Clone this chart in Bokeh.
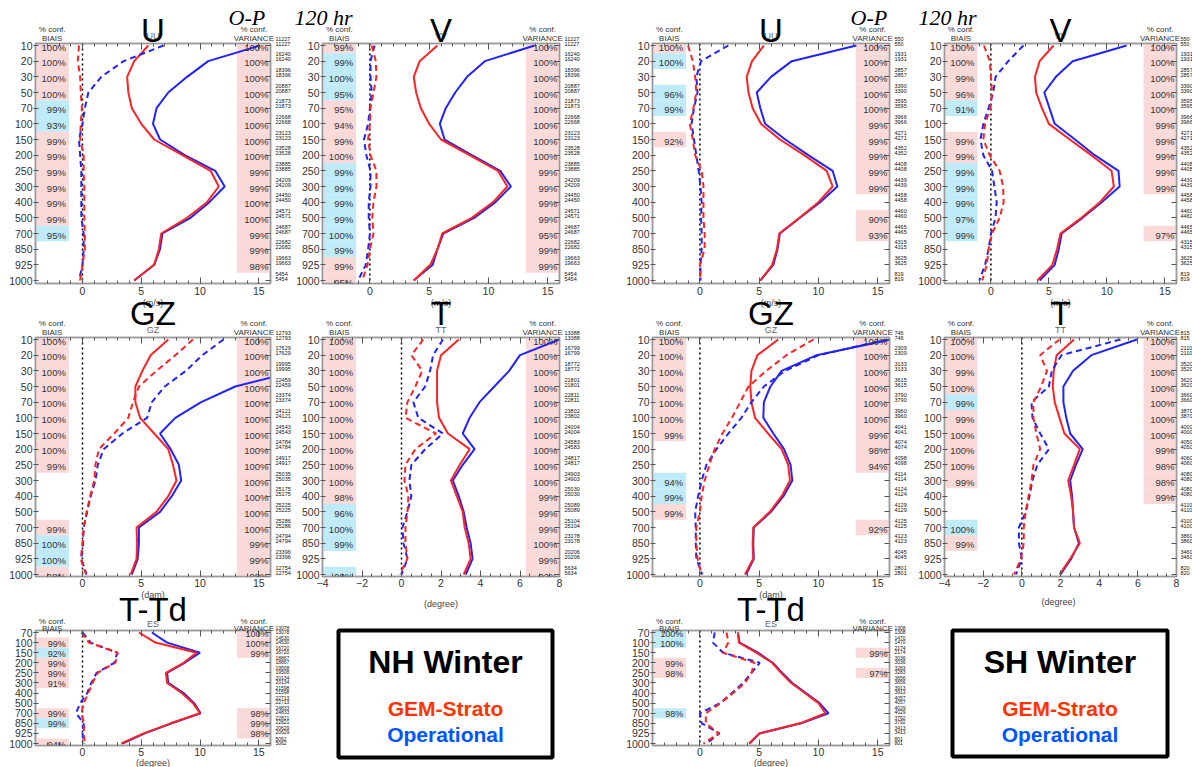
from bokeh.plotting import figure
from bokeh.models import (Range1d, FixedTicker, SingleIntervalTicker, LinearAxis,
                          LabelSet, ColumnDataSource, Span, CustomLabelingPolicy)
from bokeh.layouts import row, column
from bokeh.core.properties import value
from bokeh.embed import file_html
from bokeh.resources import INLINE

# ------------------------------------------------------------------ data
LEVELS = [10, 20, 30, 50, 70, 100, 150, 200, 250, 300, 400, 500, 700, 850, 925, 1000]
LEVELS_ES = [70, 100, 150, 200, 250, 300, 400, 500, 700, 850, 925, 1000]

# ---- NH winter: U
nh_u_strato_std = [5.6, 4.4, 3.8, 3.9, 4.2, 5.0, 6.1, 8.5, 10.9, 11.6, 10.6, 8.9, 6.7, 6.5, 6.1, 4.4]
nh_u_oper_std = [15.1, 10.7, 8.9, 7.3, 6.3, 6.0, 6.6, 8.7, 11.3, 12.1, 10.8, 9.2, 6.8, 6.6, 6.1, 4.4]
nh_u_strato_bias = [-0.3, -0.4, -0.2, -0.15, -0.05, -0.15, -0.2, 0.1, 0.1, 0.15, 0.15, 0.15, 0.2, 0.2, 0.0, -0.2]
nh_u_oper_bias = [6.9, 3.5, 1.6, 0.5, 0.2, 0.0, -0.3, -0.2, -0.1, -0.1, -0.1, -0.1, 0.1, 0.1, 0.0, -0.3]
nh_u_bias_conf = [100, 100, 100, 100, 99, 93, 99, 99, 99, 99, 99, 99, 95, None, None, None]
nh_u_bias_sig = ['r', 'r', 'r', 'r', 'b', 'b', 'r', 'r', 'r', 'r', 'r', 'r', 'b', None, None, None]
nh_u_var_conf = [100, 100, 100, 100, 100, 100, 100, 100, 99, 99, 100, 100, 99, 99, 98, None]
nh_u_var_sig = ['r'] * 15 + [None]
nh_uv_count = [11227, 16240, 18396, 20887, 21873, 22668, 23123, 23528, 23885, 24209, 24450, 24571, 24687, 22682, 19663, 5454]

# ---- NH winter: V
nh_v_strato_std = [5.7, 4.2, 3.7, 3.9, 4.3, 5.0, 6.0, 8.4, 10.8, 11.6, 10.4, 8.6, 6.1, 5.7, 5.1, 3.7]
nh_v_oper_std = [13.9, 9.7, 8.2, 7.2, 6.4, 5.9, 6.3, 8.6, 11.0, 11.9, 10.6, 8.8, 6.2, 5.7, 5.3, 3.7]
nh_v_strato_bias = [0.15, 0.5, 0.55, 0.3, 0.05, 0.0, -0.15, 0.05, 0.55, 0.55, 0.3, 0.2, 0.3, 0.0, -0.2, -0.65]
nh_v_oper_bias = [0.4, 0.05, 0.05, 0.15, 0.0, -0.15, -0.5, -0.3, 0.05, 0.05, -0.1, -0.1, 0.0, -0.15, -0.35, -1.0]
nh_v_bias_conf = [99, 99, 100, 95, 95, 94, 99, 100, 99, 99, 99, 99, 100, 99, 99, 95]
nh_v_bias_sig = ['r', 'b', 'b', 'b', 'r', 'r', 'r', 'r', 'b', 'b', 'b', 'b', 'b', 'b', 'r', 'r']
nh_v_var_conf = [100, 100, 100, 100, 100, 100, 100, 100, 99, 99, 99, 99, 95, 99, 99, None]
nh_v_var_sig = ['r'] * 15 + [None]

# ---- NH winter: GZ
nh_gz_strato_std = [7.3, 5.8, 5.1, 4.5, 4.5, 4.9, 6.1, 7.3, 7.7, 8.0, 7.3, 6.3, 4.6, 4.65, 4.6, 4.1]
nh_gz_oper_std = [28.0, 23.0, 18.3, 13.0, 10.1, 7.9, 6.6, 7.5, 8.2, 8.4, 7.6, 6.6, 4.8, 4.8, 4.7, 4.2]
nh_gz_strato_bias = [9.4, 7.9, 6.3, 4.8, 4.3, 3.9, 2.7, 1.4, 1.1, 1.0, 0.65, 0.35, 0.1, 0.0, -0.15, 0.3]
nh_gz_oper_bias = [12.0, 10.2, 8.8, 7.0, 5.9, 5.5, 3.4, 1.8, 1.3, 1.1, 0.7, 0.4, 0.1, 0.05, -0.1, 0.35]
nh_gz_bias_conf = [100, 100, 100, 100, 100, 100, 100, 100, 99, None, None, None, 99, 100, 100, 98]
nh_gz_bias_sig = ['r'] * 9 + [None] * 3 + ['r', 'b', 'b', 'r']
nh_gz_var_conf = [100] * 13 + [99, 99, 98]
nh_gz_var_sig = ['r'] * 16
nh_gz_count = [12793, 17629, 19995, 22459, 23374, 24121, 24543, 24784, 24917, 25035, 25175, 25225, 25286, 24794, 23396, 12754]

# ---- NH winter: T
nh_t_strato_std = [2.9, 2.0, 1.8, 1.8, 1.8, 1.9, 2.35, 3.45, 2.95, 2.5, 2.8, 3.1, 3.2, 3.4, 3.5, 3.15]
nh_t_oper_std = [8.0, 6.0, 5.45, 4.7, 3.95, 3.45, 3.1, 3.7, 3.1, 2.6, 2.9, 3.15, 3.3, 3.5, 3.6, 3.25]
nh_t_strato_bias = [1.1, 0.5, 1.05, 0.7, 0.3, 0.2, 1.75, 0.7, 0.2, 0.15, 0.35, 0.3, 0.2, 0.2, 0.3, -0.1]
nh_t_oper_bias = [2.1, 1.6, 1.45, 1.2, 0.6, 0.85, 2.1, 1.2, 0.5, 0.4, 0.5, 0.3, 0.05, 0.1, 0.3, 0.0]
nh_t_bias_conf = [100] * 10 + [98, 96, 100, 99, None, 98]
nh_t_bias_sig = ['r'] * 11 + ['b', 'b', 'b', None, 'b']
nh_t_var_conf = [100] * 10 + [99, 99, 99, 100, 99, 92]
nh_t_var_sig = ['r'] * 16
nh_t_count = [13388, 16799, 18772, 21801, 22811, 23802, 24004, 24583, 24817, 24903, 25030, 25089, 25104, 23178, 20206, 5634]

# ---- NH winter: T-Td
nh_td_strato_std = [4.8, 6.2, 9.7, 8.6, 7.1, 7.2, 8.45, 9.4, 10.0, 7.5, 5.2, 3.3]
nh_td_oper_std = [5.9, 7.2, 10.0, 8.7, 7.2, 7.3, 8.6, 9.5, 10.05, 7.6, 5.3, 3.4]
nh_td_strato_bias = [-0.1, 0.55, 3.0, 2.8, 1.3, 0.85, 0.5, 0.1, -0.1, 0.15, 0.1, 0.2]
nh_td_oper_bias = [0.0, 0.7, 2.95, 2.7, 1.2, 0.75, 0.4, -0.2, -0.55, 0.1, 0.0, 0.15]
nh_td_bias_conf = [None, 99, 92, 99, 99, 91, None, None, 99, 99, None, 94]
nh_td_bias_sig = [None, 'r', 'b', 'r', 'r', 'r', None, None, 'r', 'b', None, 'r']
nh_td_var_conf = [100, 100, 99, None, None, None, None, None, 98, 99, 98, None]
nh_td_var_sig = ['r', 'r', 'r', None, None, None, None, None, 'r', 'r', 'r', None]
nh_td_count = [13078, 14530, 16720, 18867, 19508, 20134, 21598, 22713, 24833, 22821, 20629, 5062]

# ---- SH winter: U
sh_u_strato_std = [5.4, 4.4, 3.95, 4.1, 4.45, 5.15, 6.75, 8.8, 10.7, 11.2, 10.0, 8.4, 6.7, 6.5, 6.1, 5.1]
sh_u_oper_std = [13.2, 7.75, 6.0, 4.8, 5.1, 5.5, 7.2, 9.15, 11.2, 11.6, 10.15, 8.45, 6.75, 6.55, 6.2, 5.1]
sh_u_strato_bias = [-1.0, -0.6, -0.4, -0.3, -0.55, -0.85, -0.6, -0.4, 0.15, 0.3, 0.3, 0.3, 0.4, 0.4, 0.0, 0.05]
sh_u_oper_bias = [2.4, 0.1, -0.3, -0.2, -0.5, -0.7, -0.5, -0.3, -0.1, 0.05, 0.15, 0.1, 0.15, 0.15, 0.05, 0.05]
sh_u_bias_conf = [100, 100, None, 96, 99, None, 92, None, None, None, None, None, None, None, None, None]
sh_u_bias_sig = ['r', 'b', None, 'b', 'b', None, 'r', None, None, None, None, None, None, None, None, None]
sh_u_var_conf = [100, 100, 100, 100, 100, 99, 99, 99, 99, 99, None, 90, 93, None, None, None]
sh_u_var_sig = ['r'] * 10 + [None, 'r', 'r', None, None, None]
sh_uv_count = [550, 1931, 2857, 3390, 3595, 3966, 4271, 4352, 4408, 4439, 4458, 4460, 4465, 4315, 3625, 819]

# ---- SH winter: V
sh_v_strato_std = [5.4, 4.2, 3.8, 3.9, 4.4, 5.0, 6.8, 8.65, 10.4, 10.6, 9.4, 7.8, 6.0, 5.7, 5.3, 4.0]
sh_v_oper_std = [11.7, 7.05, 5.6, 4.6, 5.05, 5.5, 7.25, 8.95, 11.0, 11.1, 9.55, 7.9, 6.1, 5.85, 5.5, 4.2]
sh_v_strato_bias = [-0.6, -0.1, 0.0, 0.1, -0.05, -0.5, -0.65, -0.1, 0.75, 1.05, 1.1, 0.75, 0.1, -0.2, -0.35, -0.75]
sh_v_oper_bias = [2.8, 1.5, 0.4, 0.2, -0.2, -0.65, -0.9, -0.65, 0.1, 0.3, 0.5, 0.4, 0.0, -0.2, -0.5, -1.0]
sh_v_bias_conf = [100, 100, 99, 96, 91, None, 99, 99, 99, 99, 99, 97, 99, None, None, None]
sh_v_bias_sig = ['r', 'r', 'r', 'r', 'b', None, 'r', 'r', 'b', 'b', 'b', 'b', 'b', None, None, None]
sh_v_var_conf = [100, 100, 100, 100, 100, 99, 99, 99, 99, 99, None, None, 97, None, None, None]
sh_v_var_sig = ['r'] * 10 + [None, None, 'r', None, None, None]

# ---- SH winter: GZ
sh_gz_strato_std = [6.6, 4.85, 4.35, 4.25, 4.35, 4.65, 5.75, 6.9, 7.45, 7.6, 6.9, 5.9, 4.5, 4.45, 4.5, 3.8]
sh_gz_oper_std = [16.1, 9.85, 6.9, 5.95, 5.4, 5.35, 6.2, 7.1, 7.65, 7.8, 7.05, 6.0, 4.55, 4.5, 4.55, 3.9]
sh_gz_strato_bias = [9.6, 7.3, 5.6, 4.1, 3.4, 2.7, 1.9, 1.25, 0.8, 0.4, 0.15, 0.0, -0.3, -0.3, -0.2, 0.15]
sh_gz_oper_bias = [15.8, 10.0, 7.2, 5.4, 4.35, 3.5, 2.4, 1.4, 0.55, 0.15, -0.15, -0.4, -0.35, -0.35, -0.3, 0.2]
sh_gz_bias_conf = [100, 100, 100, 100, 100, 100, 99, None, None, 94, 99, 99, None, None, None, None]
sh_gz_bias_sig = ['r'] * 7 + [None, None, 'b', 'b', 'r', None, None, None, None]
sh_gz_var_conf = [100, 100, 100, 100, 100, 100, 99, 98, 94, None, None, None, 92, None, None, None]
sh_gz_var_sig = ['r'] * 9 + [None, None, None, 'r', None, None, None]
sh_gz_count = [746, 2309, 3133, 3615, 3790, 3960, 4041, 4074, 4098, 4114, 4124, 4129, 4125, 4123, 4045, 2801]

# ---- SH winter: T
sh_t_strato_std = [2.7, 1.8, 1.65, 1.6, 1.7, 1.95, 2.2, 3.0, 2.7, 2.4, 2.55, 2.65, 2.7, 3.0, 2.5, 1.95]
sh_t_oper_std = [5.95, 3.6, 2.65, 2.15, 2.15, 2.3, 2.5, 3.15, 2.8, 2.5, 2.6, 2.65, 2.7, 2.95, 2.55, 2.0]
sh_t_strato_bias = [1.95, 0.95, 1.3, 1.0, 0.6, 0.6, 0.75, 0.95, 0.6, 0.5, 0.35, 0.2, 0.1, 0.1, -0.05, -0.4]
sh_t_oper_bias = [5.1, 2.05, 1.55, 1.4, 0.5, 0.55, 0.95, 1.4, 0.8, 0.55, 0.4, 0.2, -0.15, -0.15, 0.0, -0.3]
sh_t_bias_conf = [100, 100, 99, 100, 99, 99, 100, 100, 100, 99, None, None, 100, 99, None, None]
sh_t_bias_sig = ['r', 'r', 'r', 'r', 'b', 'r', 'r', 'r', 'r', 'r', None, None, 'b', 'r', None, None]
sh_t_var_conf = [100, 100, 100, 100, 100, 100, 100, 99, 98, 98, 99, None, None, None, None, None]
sh_t_var_sig = ['r'] * 11 + [None] * 5
sh_t_count = [815, 2110, 3520, 3620, 3660, 3870, 4000, 4050, 4060, 4080, 4080, 4110, 4100, 3860, 3460, 820]

# ---- SH winter: T-Td
sh_td_strato_std = [3.2, 3.3, 4.75, 6.1, 6.85, 7.7, 8.85, 10.0, 10.6, 8.45, 5.0, 4.15]
sh_td_oper_std = [3.2, 3.35, 4.9, 6.15, 6.95, 7.8, 8.95, 10.1, 10.85, 8.55, 5.05, 4.2]
sh_td_strato_bias = [2.25, 2.4, 1.95, 4.6, 4.35, 3.8, 2.8, 1.75, 0.5, 0.5, 1.6, 0.3]
sh_td_oper_bias = [1.25, 1.1, 1.95, 5.05, 4.35, 3.65, 2.7, 1.7, 0.0, 0.15, 1.65, 0.55]
sh_td_bias_conf = [100, 100, None, 99, 98, None, None, None, 98, None, None, None]
sh_td_bias_sig = ['b', 'b', None, 'r', 'r', None, None, None, 'b', None, None, None]
sh_td_var_conf = [None, None, 99, None, 97, None, None, None, None, None, None, None]
sh_td_var_sig = [None, None, 'r', None, 'r', None, None, None, None, None, None, None]
sh_td_count = [1308, 1470, 2174, 3036, 3283, 3656, 3913, 4057, 4029, 3792, 3413, 801]

# ------------------------------------------------------------------ style
FONT = "Liberation Sans"
RED = "#ff2222"
BLUE = "#2222ff"
SIG = {'r': "#fad9d9", 'b': "#bfeaf8"}
GRAY = "#9a9a9a"
TXT = "#333333"

# column geometry: (border_left, frame_width, border_right)
COLS = {"A": (35, 235, 23), "B": (29, 237, 41), "C": (52, 237, 26), "D": (27, 232, 18)}
# row geometry: (border_top, frame_height, border_bottom, pad_top_px, pad_bottom_px)
ROWS = {1: (43, 240, 15, 2, 3), 2: (39, 239, 14, 2, 2), 3: (40, 115, 22, 2, 2)}
# vertical centre of the big panel titles / small sub-titles, per row (canvas px)
TITLE_Y = {1: 30, 2: 15, 3: 19}
SUB_Y = {1: 35, 2: 31.5, 3: 33.5}

NO_LABELS = CustomLabelingPolicy(code="for (const i of indices) indices.unset(i)")


def to_data(g, cx, cy):
    x = g["x0"] + (cx - g["bl"]) / g["fw"] * (g["x1"] - g["x0"])
    y = g["ytop"] + (cy - g["bt"]) / g["fh"] * (g["ybot"] - g["ytop"])
    return x, y


def put(g, text, cx, cy, size, color=TXT, align="center", baseline="middle",
        style="normal", font=FONT, level="overlay"):
    x, y = to_data(g, cx, cy)
    g["p"].text(x=[x], y=[y], text=[text], text_font=value(font), text_font_size=value(size),
                text_color=color, text_align=align, text_baseline=baseline,
                text_font_style=style, level=level)


def style_axis(ax, show_labels=True):
    ax.axis_line_color = GRAY
    ax.axis_line_width = 1.5
    ax.major_tick_line_color = "#555555"
    ax.minor_tick_line_color = "#555555"
    ax.major_label_text_font = FONT
    ax.major_label_text_color = TXT
    ax.major_label_text_font_size = "10.5px"
    if show_labels:
        ax.major_label_standoff = 2
    else:
        ax.major_label_standoff = 0
        ax.major_label_policy = NO_LABELS


def make_panel(s):
    bl, fw, br = COLS[s["col"]]
    bt, fh, bb, pt, pb = ROWS[s["row"]]
    levels = s["levels"]
    n = len(levels)
    sp = (fh - pt - pb) / (n - 1)
    ytop, ybot = -pt / sp, (n - 1) + pb / sp
    x0, x1 = s["xr"]
    p = figure(title=None, frame_width=fw, frame_height=fh,
               min_border_left=bl, min_border_right=br, min_border_top=bt, min_border_bottom=bb,
               x_range=Range1d(x0, x1), y_range=Range1d(ybot, ytop),
               output_backend="svg", toolbar_location=None)
    g = dict(p=p, bl=bl, bt=bt, fw=fw, fh=fh, x0=x0, x1=x1, ytop=ytop, ybot=ybot)
    p.grid.visible = False
    p.outline_line_color = GRAY
    p.outline_line_width = 1.5
    idx = list(range(n))
    ux = (x1 - x0) / fw
    uy = (ybot - ytop) / fh

    # axes
    xa = p.xaxis[0]
    xa.ticker = SingleIntervalTicker(interval=s["major"], num_minor_ticks=s["minor"])
    style_axis(xa)
    xa.major_label_standoff = 3 if s["row"] == 1 else 2
    xa.major_tick_in, xa.major_tick_out = 6, 0
    xa.minor_tick_in, xa.minor_tick_out = 3, 0
    top = LinearAxis(ticker=SingleIntervalTicker(interval=s["major"], num_minor_ticks=s["minor"]))
    style_axis(top, False)
    top.major_tick_in, top.major_tick_out = 6, 0
    top.minor_tick_in, top.minor_tick_out = 3, 0
    p.add_layout(top, "above")

    ya = p.yaxis[0]
    ya.ticker = FixedTicker(ticks=idx)
    ya.major_label_overrides = {i: str(l) for i, l in enumerate(levels)}
    style_axis(ya)
    ya.major_label_standoff = 1
    ya.major_tick_in, ya.major_tick_out = 3, 2
    ya.minor_tick_line_color = None
    ra = LinearAxis(ticker=FixedTicker(ticks=idx))
    style_axis(ra, False)
    ra.major_tick_in, ra.major_tick_out = 5, 0
    ra.minor_tick_line_color = None
    p.add_layout(ra, "right")

    # significance shading
    w = 0.142 * (x1 - x0)
    q = dict(left=[], right=[], top=[], bottom=[], color=[])
    tl = dict(x=[], y=[], text=[])
    tr = dict(x=[], y=[], text=[])
    for i in idx:
        if s["bsig"][i]:
            q["left"].append(x0); q["right"].append(x0 + w)
            q["top"].append(i - 0.5); q["bottom"].append(i + 0.5)
            q["color"].append(SIG[s["bsig"][i]])
        if s["bconf"][i] is not None:
            tl["x"].append(x0 + w - 3 * ux); tl["y"].append(i + 0.1)
            tl["text"].append(f"{s['bconf'][i]}%")
        if s["vsig"][i]:
            q["left"].append(x1 - w); q["right"].append(x1)
            q["top"].append(i - 0.5); q["bottom"].append(i + 0.5)
            q["color"].append(SIG[s["vsig"][i]])
        if s["vconf"][i] is not None:
            tr["x"].append(x1 - 2 * ux); tr["y"].append(i + 0.1)
            tr["text"].append(f"{s['vconf'][i]}%")
    p.quad(left="left", right="right", top="top", bottom="bottom", color="color",
           line_color=None, source=ColumnDataSource(q))
    p.add_layout(Span(location=0, dimension="height", line_color="black",
                      line_dash="2 3", line_width=1.5, level="underlay"))

    # profiles
    p.line(x=s["oper_std"], y=idx, line_color=BLUE, line_width=2)
    p.line(x=s["strato_std"], y=idx, line_color=RED, line_width=2)
    p.line(x=s["oper_bias"], y=idx, line_color=BLUE, line_width=2, line_dash="6 4")
    p.line(x=s["strato_bias"], y=idx, line_color=RED, line_width=2, line_dash="6 4")

    pfs = "9.5px" if s["row"] < 3 else "9px"
    for src in (tl, tr):
        p.add_layout(LabelSet(x="x", y="y", text="text", source=ColumnDataSource(src),
                              text_align="right", text_baseline="middle",
                              text_font=value(FONT), text_font_size=pfs, text_color=TXT))

    # station counts (outside the frame, so drawn as an overlay text glyph)
    o1, o2, fs = (7, 2, "5.5px") if s["row"] < 3 else (5, 1, "5px")
    gap = 4 if s["col"] == "D" else 5
    cs = dict(x=[], y=[], text=[])
    for i in idx:
        for off in (o1, o2):
            cs["x"].append(x1 + gap * ux); cs["y"].append(i - off * uy)
            cs["text"].append(str(s["count"][i]))
    p.text(x="x", y="y", text="text", source=ColumnDataSource(cs), text_align="left",
           text_baseline="middle", text_font=value(FONT), text_font_size=value(fs),
           text_color="#111111", level="overlay")

    # headings
    lc = bl + 0.071 * fw
    rc = bl + fw - 0.071 * fw
    d1, d2 = (14, 5) if s["row"] < 3 else (9, 2)
    for cx in (lc, rc):
        put(g, "% conf.", cx, bt - d1, "8px")
    put(g, "BIAIS", lc, bt - d2, "8px")
    put(g, "VARIANCE", rc, bt - d2, "8px")
    put(g, s["sub"], bl + fw / 2, SUB_Y[s["row"]], "9px", color="#666666")
    g["title"] = (s["title"], bl + fw / 2, TITLE_Y[s["row"]])
    return g


def make_box(bl, fw, br, bt, fh, bb, head):
    p = figure(title=None, frame_width=fw, frame_height=fh,
               min_border_left=bl, min_border_right=br, min_border_top=bt, min_border_bottom=bb,
               x_range=Range1d(0, 1), y_range=Range1d(0, 1),
               x_axis_location=None, y_axis_location=None,
               output_backend="svg", toolbar_location=None)
    p.grid.visible = False
    p.outline_line_color = "black"
    p.outline_line_width = 4
    g = dict(p=p, bl=bl, bt=bt, fw=fw, fh=fh, x0=0, x1=1, ytop=1, ybot=0)
    put(g, head, bl + fw / 2, bt + 31, "32px", color="black", style="bold")
    put(g, "GEM-Strato", bl + fw / 2, bt + 78, "21px", color="#ff3300", style="bold")
    put(g, "Operational", bl + fw / 2, bt + 104, "21px", color="#0055ff", style="bold")
    return g


def spec(col, rown, title, sub, unit, xr, major, minor, levels, ss, os_, sb, ob, bc, bs, vc, vs, cnt):
    return dict(col=col, row=rown, title=title, sub=sub, unit=unit, xr=xr, major=major, minor=minor,
                levels=levels, strato_std=ss, oper_std=os_, strato_bias=sb, oper_bias=ob,
                bconf=bc, bsig=bs, vconf=vc, vsig=vs, count=cnt)


WIND = (-4, 16)
TEMP = (-4, 8)
specs = {
    ("A", 1): spec("A", 1, "U", "UU", "(m/s)", WIND, 5, 5, LEVELS, nh_u_strato_std, nh_u_oper_std,
                   nh_u_strato_bias, nh_u_oper_bias, nh_u_bias_conf, nh_u_bias_sig, nh_u_var_conf,
                   nh_u_var_sig, nh_uv_count),
    ("B", 1): spec("B", 1, "V", "VV", "(m/s)", WIND, 5, 5, LEVELS, nh_v_strato_std, nh_v_oper_std,
                   nh_v_strato_bias, nh_v_oper_bias, nh_v_bias_conf, nh_v_bias_sig, nh_v_var_conf,
                   nh_v_var_sig, nh_uv_count),
    ("A", 2): spec("A", 2, "GZ", "GZ", "(dam)", WIND, 5, 5, LEVELS, nh_gz_strato_std, nh_gz_oper_std,
                   nh_gz_strato_bias, nh_gz_oper_bias, nh_gz_bias_conf, nh_gz_bias_sig, nh_gz_var_conf,
                   nh_gz_var_sig, nh_gz_count),
    ("B", 2): spec("B", 2, "T", "TT", "(degree)", TEMP, 2, 4, LEVELS, nh_t_strato_std, nh_t_oper_std,
                   nh_t_strato_bias, nh_t_oper_bias, nh_t_bias_conf, nh_t_bias_sig, nh_t_var_conf,
                   nh_t_var_sig, nh_t_count),
    ("A", 3): spec("A", 3, "T-Td", "ES", "(degree)", WIND, 5, 5, LEVELS_ES, nh_td_strato_std, nh_td_oper_std,
                   nh_td_strato_bias, nh_td_oper_bias, nh_td_bias_conf, nh_td_bias_sig, nh_td_var_conf,
                   nh_td_var_sig, nh_td_count),
    ("C", 1): spec("C", 1, "U", "UU", "(m/s)", WIND, 5, 5, LEVELS, sh_u_strato_std, sh_u_oper_std,
                   sh_u_strato_bias, sh_u_oper_bias, sh_u_bias_conf, sh_u_bias_sig, sh_u_var_conf,
                   sh_u_var_sig, sh_uv_count),
    ("D", 1): spec("D", 1, "V", "VV", "(m/s)", WIND, 5, 5, LEVELS, sh_v_strato_std, sh_v_oper_std,
                   sh_v_strato_bias, sh_v_oper_bias, sh_v_bias_conf, sh_v_bias_sig, sh_v_var_conf,
                   sh_v_var_sig, sh_uv_count),
    ("C", 2): spec("C", 2, "GZ", "GZ", "(dam)", WIND, 5, 5, LEVELS, sh_gz_strato_std, sh_gz_oper_std,
                   sh_gz_strato_bias, sh_gz_oper_bias, sh_gz_bias_conf, sh_gz_bias_sig, sh_gz_var_conf,
                   sh_gz_var_sig, sh_gz_count),
    ("D", 2): spec("D", 2, "T", "TT", "(degree)", TEMP, 2, 4, LEVELS, sh_t_strato_std, sh_t_oper_std,
                   sh_t_strato_bias, sh_t_oper_bias, sh_t_bias_conf, sh_t_bias_sig, sh_t_var_conf,
                   sh_t_var_sig, sh_t_count),
    ("C", 3): spec("C", 3, "T-Td", "ES", "(degree)", WIND, 5, 5, LEVELS_ES, sh_td_strato_std, sh_td_oper_std,
                   sh_td_strato_bias, sh_td_oper_bias, sh_td_bias_conf, sh_td_bias_sig, sh_td_var_conf,
                   sh_td_var_sig, sh_td_count),
}

G = {k: make_panel(v) for k, v in specs.items()}
G[("B", 3)] = make_box(45, 214, 48, 31, 127, 19, "NH Winter")
G[("D", 3)] = make_box(37, 215, 25, 33, 126, 18, "SH Winter")

# unit labels (drawn under the neighbouring titles)
for (col, rown), s in specs.items():
    bl, fw, _ = COLS[col]
    if rown < 3:
        put(G[(col, rown + 1)], s["unit"], bl + fw / 2, 4, "9px", color="#444444", level="annotation")
    else:
        bt, fh, _, _, _ = ROWS[3]
        put(G[(col, rown)], s["unit"], bl + fw / 2, bt + fh + 17, "9px", color="#444444",
            level="annotation")

# big panel titles, on top of everything else
for k in specs:
    t, cx, cy = G[k]["title"]
    put(G[k], t, cx, cy, "33px", color="black")

# forecast lead title
for a, b, cx in ((("A", 1), ("B", 1), 228), (("C", 1), ("D", 1), 250)):
    put(G[a], "O-P", cx, 17, "22px", color="black", align="left", style="italic", font="Liberation Serif")
    put(G[b], "120 hr", 1, 17, "22px", color="black", align="left", style="italic", font="Liberation Serif")

layout = column(
    row(*[G[(c, 1)]["p"] for c in "ABCD"], spacing=0),
    row(*[G[(c, 2)]["p"] for c in "ABCD"], spacing=0),
    row(*[G[(c, 3)]["p"] for c in "ABCD"], spacing=0),
    spacing=0,
)

open("out.html", "w").write(file_html(layout, INLINE))
